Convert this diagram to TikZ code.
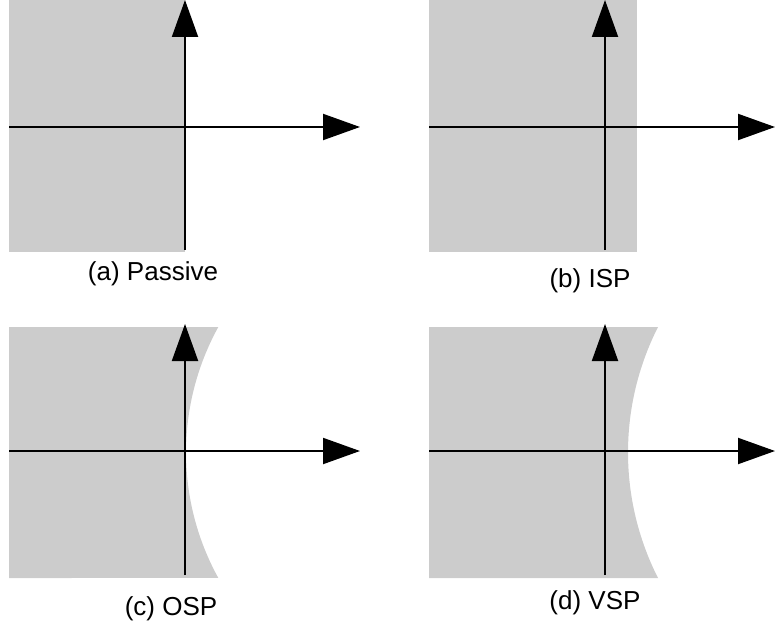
\documentclass[tikz,border=0pt]{standalone}
\usepackage{fontspec}
\setmainfont{Liberation Sans}
\usetikzlibrary{arrows.meta}
\definecolor{region}{RGB}{204,204,204}
\tikzset{
  axis/.style={line width=2pt, -{Triangle[length=37pt,width=26pt]}},
  stable/.style={fill=region, draw=none},
  caption/.style={font=\fontsize{26}{30}\selectfont, inner sep=0pt}
}
\begin{document}
\begin{tikzpicture}[x=1pt,y=1pt]
\useasboundingbox (0,0) rectangle (775,630);

% (a) Passive: left half-plane
\fill[stable] (9,378) rectangle (185,630);
\coordinate (a-s) at (185,380); \coordinate (a-n) at (185,630);
\coordinate (a-w) at (9,503);   \coordinate (a-e) at (360,503);
\draw[axis] (a-s) -- (a-n);
\draw[axis] (a-w) -- (a-e);
\node[caption] (a-cap) at (153,356) {(a) Passive};

% (b) ISP: half-plane shifted right
\fill[stable] (429,378) rectangle (637,630);
\coordinate (b-s) at (605,380); \coordinate (b-n) at (605,630);
\coordinate (b-w) at (429,503); \coordinate (b-e) at (775,503);
\draw[axis] (b-s) -- (b-n);
\draw[axis] (b-w) -- (b-e);
\node[caption] (b-cap) at (590,349) {(b) ISP};

% (c) OSP: region bounded by a circular arc touching the origin
\fill[stable] (9,52) -- (9,303) -- (218.3,303)
  arc[start angle=151.14, end angle=208.86, radius=260] -- cycle;
\coordinate (c-s) at (185,55);  \coordinate (c-n) at (185,306);
\coordinate (c-w) at (9,179);   \coordinate (c-e) at (360,179);
\draw[axis] (c-s) -- (c-n);
\draw[axis] (c-w) -- (c-e);
\node[caption] (c-cap) at (171,21) {(c) OSP};

% (d) VSP: arc boundary shifted into the right half-plane
\fill[stable] (429,52) -- (429,303) -- (658,303)
  arc[start angle=153.11, end angle=206.89, radius=277.5] -- cycle;
\coordinate (d-s) at (605,55);  \coordinate (d-n) at (605,306);
\coordinate (d-w) at (429,179); \coordinate (d-e) at (775,179);
\draw[axis] (d-s) -- (d-n);
\draw[axis] (d-w) -- (d-e);
\node[caption] (d-cap) at (595,27) {(d) VSP};
\end{tikzpicture}
\end{document}
